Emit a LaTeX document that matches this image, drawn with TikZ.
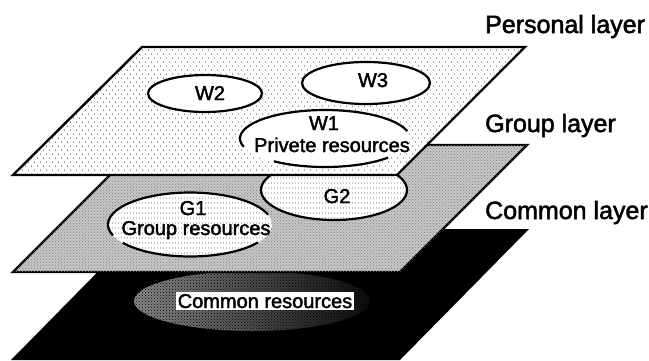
\documentclass[tikz,border=0pt]{standalone}
\usepackage{fontspec}
\setmainfont{Liberation Sans}[FakeBold=2]
\usetikzlibrary{patterns}
\pgfdeclarepatternformonly{sparsedots}{\pgfpoint{-1pt}{-1pt}}{\pgfpoint{7pt}{9pt}}{\pgfpoint{6pt}{8pt}}{%
  \pgfpathcircle{\pgfpoint{1.5pt}{2pt}}{0.5pt}%
  \pgfpathcircle{\pgfpoint{4.5pt}{6pt}}{0.5pt}%
  \pgfusepath{fill}}
\pgfdeclarepatternformonly{rowdots}{\pgfpoint{-1pt}{-1pt}}{\pgfpoint{4pt}{6pt}}{\pgfpoint{3pt}{5pt}}{%
  \pgfpathcircle{\pgfpoint{1.5pt}{2pt}}{0.45pt}%
  \pgfusepath{fill}}

\begin{document}
\begin{tikzpicture}[x=1pt, y=-1pt,
    layer/.style={line width=2.4pt, line join=miter},
    blob/.style={line width=2.2pt},
    lbl/.style={anchor=base west, inner sep=0pt, font=\fontsize{25}{30}\selectfont},
    txt/.style={anchor=base, inner sep=0pt, font=\fontsize{20}{24}\selectfont}
  ]
  \useasboundingbox (0,0) rectangle (649,360);
  % Common layer
  \fill[black] (140,229) -- (529,229) -- (400,360) -- (11,360) -- cycle;
  \shade[left color=black!45, right color=black!95]
    (252,301) ellipse[x radius=118, y radius=30];
  \fill[pattern=crosshatch dots, pattern color=black]
    (252,301) ellipse[x radius=118, y radius=30];
  \node[txt, fill=white, inner sep=2pt] (CR) at (265,308) {Common resources};
  % Group layer
  \draw[layer, fill=black!22, postaction={pattern=crosshatch dots, pattern color=black!50}]
    (140,145) -- (527,145) -- (400,272) -- (13,272) -- cycle;
  % G1 (outline broken by its text)
  \fill[white, postaction={pattern=rowdots}] (190,224.5) ellipse[x radius=82, y radius=32];
  \draw[blob] (190,224.5) ++(160:82 and 32) arc[start angle=160, end angle=342, x radius=82, y radius=32];
  \draw[blob] (190,224.5) ++(34:82 and 32) arc[start angle=34, end angle=145, x radius=82, y radius=32];
  % G2
  \draw[blob, fill=white, postaction={pattern=rowdots}] (334,190) ellipse[x radius=73, y radius=30];
  % Personal layer
  \draw[layer, fill=white, postaction={pattern=sparsedots}]
    (142,47) -- (525,47) -- (397,175) -- (13,175) -- cycle;
  % W2, W3
  \draw[blob, fill=white] (205,93.5) ellipse[x radius=57, y radius=18.5];
  \draw[blob, fill=white] (366,83) ellipse[x radius=64, y radius=21];
  % W1 (outline broken by its text)
  \fill[white] (325,138.5) ellipse[x radius=85, y radius=28.5];
  \draw[blob] (325,138.5) ++(163:85 and 28.5) arc[start angle=163, end angle=345, x radius=85, y radius=28.5];
  \draw[blob] (325,138.5) ++(42:85 and 28.5) arc[start angle=42, end angle=127, x radius=85, y radius=28.5];
  % Texts in the ellipses
  \node[txt] (W2) at (210,100) {W2};
  \node[txt] (W3) at (373,87) {W3};
  \node[txt] (W1) at (324,130) {W1};
  \node[txt] (PR) at (332,152) {Privete resources};
  \node[txt] (G1) at (193,215) {G1};
  \node[txt] (GR) at (196,235) {Group resources};
  \node[txt] (G2) at (337,203) {G2};
  % Layer names
  \node[lbl] (PL) at (485,33) {Personal layer};
  \node[lbl] (GL) at (485,132) {Group layer};
  \node[lbl] (CL) at (485,219) {Common layer};
\end{tikzpicture}
\end{document}
